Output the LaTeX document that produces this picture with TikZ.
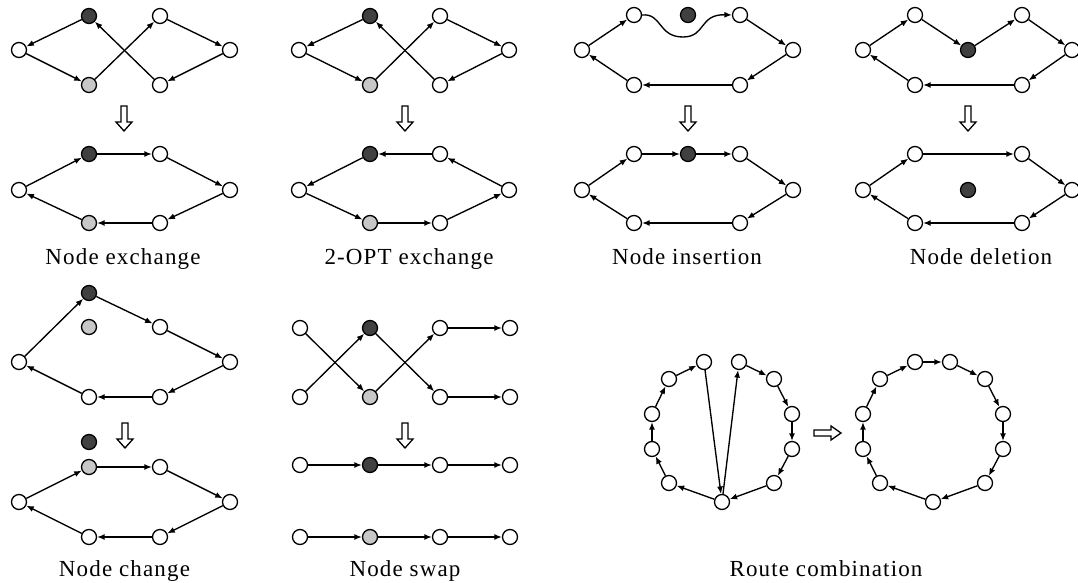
\documentclass[tikz,border=0pt]{standalone}
\usepackage{fontspec}
\setmainfont{Liberation Serif}[LetterSpace=5]
\usetikzlibrary{arrows.meta}
\begin{document}
\begin{tikzpicture}[x=1pt,y=-1pt,
  v/.style={circle,draw,line width=1.3pt,minimum size=15pt,inner sep=0pt,fill=white},
  dk/.style={v,fill=black!75},
  gy/.style={v,fill=black!22},
  e/.style={-{Latex[length=7.5pt,width=6pt]},line width=1.35pt},
  lab/.style={anchor=base,font=\fontsize{23}{27}\selectfont},
  hollow/.style={draw,line width=1.3pt,fill=white,line join=miter},
  hdown/.pic={\draw[hollow] (-3,0)--(3,0)--(3,16)--(8,16)--(0,25)--(-8,16)--(-3,16)--cycle;},
  hright/.pic={\draw[hollow] (0,-3)--(17,-3)--(17,-7)--(27,0)--(17,7)--(17,3)--(0,3)--cycle;}]
\useasboundingbox (0,0) rectangle (1078,583);

% ---------- Panel 1: Node exchange ----------
\node[dk] (a1) at (89,16) {};
\node[v]  (a2) at (160,16) {};
\node[v]  (a3) at (19,50) {};
\node[v]  (a4) at (230,50) {};
\node[gy] (a5) at (89,85) {};
\node[v]  (a6) at (160,85) {};
\draw[e] (a1)--(a3); \draw[e] (a3)--(a5); \draw[e] (a5)--(a2);
\draw[e] (a2)--(a4); \draw[e] (a4)--(a6); \draw[e] (a6)--(a1);
\pic at (124,106) {hdown};
\node[dk] (b1) at (89,154) {};
\node[v]  (b2) at (160,154) {};
\node[v]  (b3) at (19,190) {};
\node[v]  (b4) at (230,190) {};
\node[gy] (b5) at (89,223) {};
\node[v]  (b6) at (160,223) {};
\draw[e] (b3)--(b1); \draw[e] (b1)--(b2); \draw[e] (b2)--(b4);
\draw[e] (b4)--(b6); \draw[e] (b6)--(b5); \draw[e] (b5)--(b3);
\node[lab] (t1) at (123,264.5) {Node exchange};

% ---------- Panel 2: 2-OPT exchange ----------
\node[dk] (c1) at (370,16) {};
\node[v]  (c2) at (440,16) {};
\node[v]  (c3) at (299,50) {};
\node[v]  (c4) at (509,50) {};
\node[gy] (c5) at (370,85) {};
\node[v]  (c6) at (440,85) {};
\draw[e] (c1)--(c3); \draw[e] (c3)--(c5); \draw[e] (c5)--(c2);
\draw[e] (c2)--(c4); \draw[e] (c4)--(c6); \draw[e] (c6)--(c1);
\pic at (405,106) {hdown};
\node[dk] (d1) at (370,154) {};
\node[v]  (d2) at (440,154) {};
\node[v]  (d3) at (299,190) {};
\node[v]  (d4) at (509,190) {};
\node[gy] (d5) at (370,223) {};
\node[v]  (d6) at (440,223) {};
\draw[e] (d2)--(d1); \draw[e] (d1)--(d3); \draw[e] (d3)--(d5);
\draw[e] (d5)--(d6); \draw[e] (d6)--(d4); \draw[e] (d4)--(d2);
\node[lab] (t2) at (409,264.5) {2-OPT exchange};

% ---------- Panel 3: Node insertion ----------
\node[v]  (f1) at (634,15) {};
\node[dk] (f2) at (688,15) {};
\node[v]  (f3) at (740,15) {};
\node[v]  (f4) at (582,50) {};
\node[v]  (f5) at (793,50) {};
\node[v]  (f6) at (634,85) {};
\node[v]  (f7) at (740,85) {};
\draw[e] (f4)--(f1);
\draw[e] (f1.east) .. controls (662,13) and (658,37) .. (683,37)
                   .. controls (706,37) and (699,14) .. (f3.west);
\draw[e] (f3)--(f5); \draw[e] (f5)--(f7); \draw[e] (f7)--(f6); \draw[e] (f6)--(f4);
\pic at (688,106) {hdown};
\node[v]  (g1) at (634,154) {};
\node[dk] (g2) at (688,154) {};
\node[v]  (g3) at (740,154) {};
\node[v]  (g4) at (582,190) {};
\node[v]  (g5) at (793,190) {};
\node[v]  (g6) at (634,223) {};
\node[v]  (g7) at (740,223) {};
\draw[e] (g4)--(g1); \draw[e] (g1)--(g2); \draw[e] (g2)--(g3); \draw[e] (g3)--(g5);
\draw[e] (g5)--(g7); \draw[e] (g7)--(g6); \draw[e] (g6)--(g4);
\node[lab] (t3) at (687,264.5) {Node insertion};

% ---------- Panel 4: Node deletion ----------
\node[v]  (h1) at (915,15) {};
\node[dk] (h2) at (968,50) {};
\node[v]  (h3) at (1022,15) {};
\node[v]  (h4) at (863,50) {};
\node[v]  (h5) at (1072,50) {};
\node[v]  (h6) at (915,85) {};
\node[v]  (h7) at (1022,85) {};
\draw[e] (h4)--(h1); \draw[e] (h1)--(h2); \draw[e] (h2)--(h3); \draw[e] (h3)--(h5);
\draw[e] (h5)--(h7); \draw[e] (h7)--(h6); \draw[e] (h6)--(h4);
\pic at (968,106) {hdown};
\node[v]  (k1) at (915,154) {};
\node[dk] (k2) at (968,190) {};
\node[v]  (k3) at (1022,154) {};
\node[v]  (k4) at (863,190) {};
\node[v]  (k5) at (1072,190) {};
\node[v]  (k6) at (915,223) {};
\node[v]  (k7) at (1022,223) {};
\draw[e] (k4)--(k1); \draw[e] (k1)--(k3); \draw[e] (k3)--(k5);
\draw[e] (k5)--(k7); \draw[e] (k7)--(k6); \draw[e] (k6)--(k4);
\node[lab] (t4) at (981,264.5) {Node deletion};

% ---------- Panel 5: Node change ----------
\node[dk] (m1) at (89,293) {};
\node[gy] (m2) at (89,327) {};
\node[v]  (m3) at (160,327) {};
\node[v]  (m4) at (19,362) {};
\node[v]  (m5) at (230,362) {};
\node[v]  (m6) at (89,397) {};
\node[v]  (m7) at (160,397) {};
\draw[e] (m4)--(m1); \draw[e] (m1)--(m3); \draw[e] (m3)--(m5);
\draw[e] (m5)--(m7); \draw[e] (m7)--(m6); \draw[e] (m6)--(m4);
\pic at (125,423) {hdown};
\node[dk] (n1) at (89,442) {};
\node[gy] (n2) at (89,467) {};
\node[v]  (n3) at (160,467) {};
\node[v]  (n4) at (19,502) {};
\node[v]  (n5) at (230,502) {};
\node[v]  (n6) at (89,537) {};
\node[v]  (n7) at (160,537) {};
\draw[e] (n4)--(n2); \draw[e] (n2)--(n3); \draw[e] (n3)--(n5);
\draw[e] (n5)--(n7); \draw[e] (n7)--(n6); \draw[e] (n6)--(n4);
\node[lab] (t5) at (124.5,576.5) {Node change};

% ---------- Panel 6: Node swap ----------
\node[v]  (p1) at (300,328) {};
\node[dk] (p2) at (370,328) {};
\node[v]  (p3) at (440,328) {};
\node[v]  (p4) at (510,328) {};
\node[v]  (q1) at (300,397) {};
\node[gy] (q2) at (370,397) {};
\node[v]  (q3) at (440,397) {};
\node[v]  (q4) at (510,397) {};
\draw[e] (q1)--(p2); \draw[e] (p1)--(q2); \draw[e] (p2)--(q3);
\draw[e] (q2)--(p3); \draw[e] (p3)--(p4); \draw[e] (q3)--(q4);
\pic at (405,423) {hdown};
\node[v]  (r1) at (300,465) {};
\node[dk] (r2) at (370,465) {};
\node[v]  (r3) at (440,465) {};
\node[v]  (r4) at (510,465) {};
\node[v]  (s1) at (300,537) {};
\node[gy] (s2) at (370,537) {};
\node[v]  (s3) at (440,537) {};
\node[v]  (s4) at (510,537) {};
\draw[e] (r1)--(r2); \draw[e] (r2)--(r3); \draw[e] (r3)--(r4);
\draw[e] (s1)--(s2); \draw[e] (s2)--(s3); \draw[e] (s3)--(s4);
\node[lab] (t6) at (405,576.5) {Node swap};

% ---------- Panel 7: Route combination ----------
\node[v] (L1) at (704,362) {};
\node[v] (L2) at (669,379) {};
\node[v] (L3) at (652,414) {};
\node[v] (L4) at (652,449) {};
\node[v] (L5) at (669,483) {};
\node[v] (L6) at (722,502) {};
\node[v] (L7) at (739,362) {};
\node[v] (L8) at (774,379) {};
\node[v] (L9) at (792,414) {};
\node[v] (L10) at (792,449) {};
\node[v] (L11) at (774,483) {};
\draw[e] (L6)--(L5); \draw[e] (L5)--(L4); \draw[e] (L4)--(L3); \draw[e] (L3)--(L2);
\draw[e] (L2)--(L1); \draw[e] (L1)--(L6); \draw[e] (L6)--(L7); \draw[e] (L7)--(L8);
\draw[e] (L8)--(L9); \draw[e] (L9)--(L10); \draw[e] (L10)--(L11); \draw[e] (L11)--(L6);
\pic at (814,433) {hright};
\node[v] (R1) at (915,362) {};
\node[v] (R2) at (950,362) {};
\node[v] (R3) at (985,379) {};
\node[v] (R4) at (1003,414) {};
\node[v] (R5) at (1003,449) {};
\node[v] (R6) at (985,483) {};
\node[v] (R7) at (933,502) {};
\node[v] (R8) at (880,483) {};
\node[v] (R9) at (863,449) {};
\node[v] (R10) at (863,414) {};
\node[v] (R11) at (880,379) {};
\draw[e] (R7)--(R8); \draw[e] (R8)--(R9); \draw[e] (R9)--(R10); \draw[e] (R10)--(R11);
\draw[e] (R11)--(R1); \draw[e] (R1)--(R2); \draw[e] (R2)--(R3); \draw[e] (R3)--(R4);
\draw[e] (R4)--(R5); \draw[e] (R5)--(R6); \draw[e] (R6)--(R7);
\node[lab] (t7) at (826,576) {Route combination};
\end{tikzpicture}
\end{document}
